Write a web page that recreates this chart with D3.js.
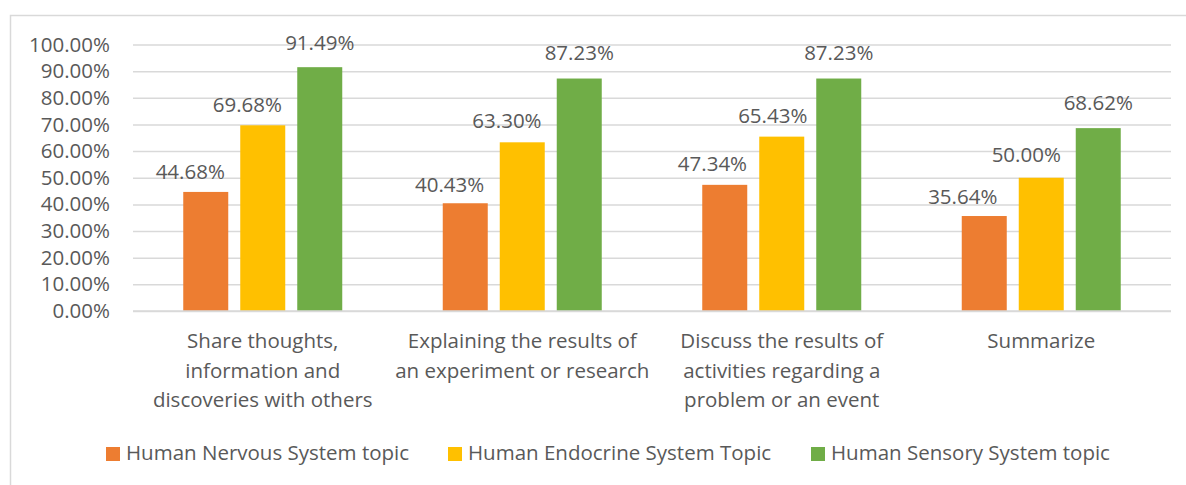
<!DOCTYPE html>
<html><head><meta charset="utf-8">
<script src="https://cdn.jsdelivr.net/npm/d3@7"></script>
<style>
html,body{margin:0;padding:0;background:#fff;}
svg{display:block;font-family:"Open Sans",Lato,sans-serif;}
</style></head>
<body><svg id="c" width="1186" height="485"></svg>
<script>
const categories = [
  ["Share thoughts,", "information and", "discoveries with others"],
  ["Explaining the results of", "an experiment or research"],
  ["Discuss the results of", "activities regarding a", "problem or an event"],
  ["Summarize"]
];
const seriesNames = ["Human Nervous System topic", "Human Endocrine System Topic", "Human Sensory System topic"];
const nervous = [44.68, 40.43, 47.34, 35.64];
const endocrine = [69.68, 63.30, 65.43, 50.00];
const sensory = [91.49, 87.23, 87.23, 68.62];
const yTicks = [0,10,20,30,40,50,60,70,80,90,100];
const colors = ["#ED7D31", "#FFC000", "#70AD47"];

(function(){
const series = [nervous, endocrine, sensory];
// manual data-label nudges seen in the original (px), per series x category
const labelDx = [[-15.5,-15.7,-12.3,-21.5],[-15.4,-15.3,-9,-15],[0,0,0,0]];
const labelDy = [[13,11,14.3,11.7],[13,14,14,16],[17,19,19,18]];
const svg = d3.select("#c");
const textColor = "#595959";
const fs = 20.5;

svg.append("path").attr("d","M10.5,485 L10.5,15.5 L1186,15.5").attr("fill","none").attr("stroke","#D9D9D9").attr("stroke-width",1.5);

const pl = 133, pr = 1171, pt = 44.5, pb = 311;
const x0 = d3.scaleBand().domain(d3.range(categories.length)).range([pl, pr]);
const innerW = 159;
const x1 = d3.scaleBand().domain(d3.range(3)).range([0, innerW]).paddingInner(12/57);
const y = d3.scaleLinear().domain([0,100]).range([pb, pt]);

const yAxis = d3.axisLeft(y).tickValues(yTicks).tickSize(-(pr-pl)).tickFormat(d => d.toFixed(2) + "%").tickPadding(23);
const ga = svg.append("g").attr("transform", `translate(${pl},0)`).call(yAxis);
ga.select(".domain").remove();
ga.selectAll(".tick line").attr("stroke","#D9D9D9").attr("stroke-width",1.5);
ga.selectAll(".tick text").attr("fill",textColor).style("font-size",fs+"px").style("font-family","Open Sans");

const groups = svg.append("g").selectAll("g").data(categories).join("g")
  .attr("transform",(d,i)=>`translate(${x0(i) + (x0.bandwidth()-innerW)/2},0)`);
groups.each(function(cat, ci){
  const g = d3.select(this);
  series.forEach((s, si) => {
    g.append("rect").attr("x", x1(si)).attr("width", x1.bandwidth())
      .attr("y", y(s[ci])).attr("height", y(0)-y(s[ci])).attr("fill", colors[si]);
  });
  series.forEach((s, si) => {
    g.append("text").attr("x", x1(si)+x1.bandwidth()/2 + labelDx[si][ci]).attr("y", y(s[ci]) - labelDy[si][ci])
      .attr("text-anchor","middle").attr("fill",textColor).style("font-size",fs+"px")
      .text(s[ci].toFixed(2)+"%");
  });
});

svg.append("line").attr("x1",pl).attr("x2",pr).attr("y1",y(0)).attr("y2",y(0)).attr("stroke","#D9D9D9").attr("stroke-width",1.5);

categories.forEach((lines, ci) => {
  const cx = x0(ci)+x0.bandwidth()/2;
  const t = svg.append("text").attr("text-anchor","middle").attr("fill",textColor).style("font-size",fs+"px")
    .attr("x", cx).attr("y", 348);
  lines.forEach((ln, li) => t.append("tspan").attr("x", cx).attr("dy", li===0?0:29.5).text(ln));
});

const legendX = [106, 448, 811];
seriesNames.forEach((n, i) => {
  svg.append("rect").attr("x", legendX[i]).attr("y", 447).attr("width", 14).attr("height", 14).attr("fill", colors[i]);
  svg.append("text").attr("x", legendX[i]+20).attr("y", 460).attr("fill",textColor).style("font-size",fs+"px").text(n);
});
})();
</script></body></html>
